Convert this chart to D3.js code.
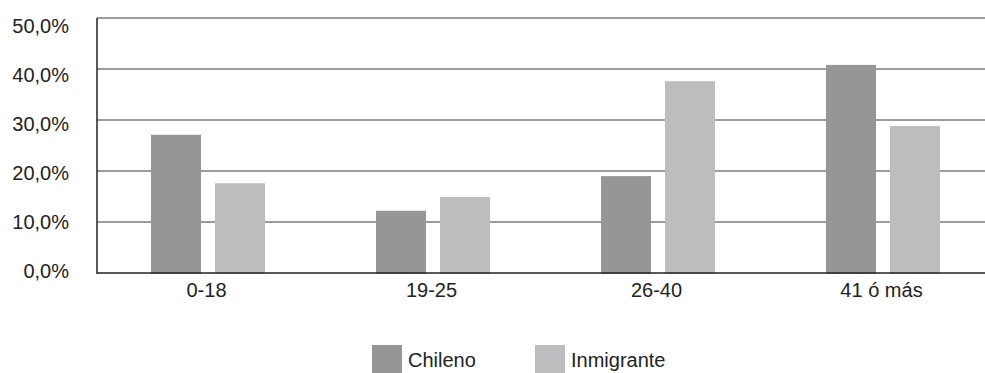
<!DOCTYPE html>
<html><head><meta charset="utf-8">
<script src="https://cdn.jsdelivr.net/npm/d3@7"></script>
<style>body{margin:0;background:#fff}svg{display:block;font-family:"Liberation Sans",Arial,sans-serif}</style>
</head><body><svg id="c" width="985" height="373"></svg>
<script>
const categories = ["0-18","19-25","26-40","41 ó más"];
const seriesNames = ["Chileno","Inmigrante"];
const chileno = [27.1,12.2,19.0,40.8];
const inmigrante = [17.6,14.9,37.6,28.8];
const yTicks = [0,10,20,30,40,50];
const colors = ["#959698","#bcbdbf"];

(function(){
const svg = d3.select("#c");
const mLeft = 97, mTop = 18, mBottom = 273;
const x = d3.scaleBand().domain(categories).range([95, 995]);
const y = d3.scaleLinear().domain([0,50]).range([mBottom, mTop]);
const yLab = d3.scaleLinear().domain([0,50]).range([271, 26]);
const fmt = v => v.toFixed(1).replace(".", ",") + "%";

// gridlines
svg.append("g").selectAll("line").data(yTicks.filter(t=>t>0)).join("line")
  .attr("x1", mLeft).attr("x2", 985)
  .attr("y1", d=>y(d)).attr("y2", d=>y(d))
  .attr("stroke", "#3a3a3a").attr("stroke-width", 1.2);

// bars
const series = [chileno, inmigrante];
const offsets = [-56.5, 7.5];
series.forEach((vals, si) => {
  svg.append("g").selectAll("rect").data(categories).join("rect")
    .attr("x", (d) => x(d) + x.bandwidth()/2 + offsets[si])
    .attr("width", 50)
    .attr("y", (d,i) => y(vals[i]))
    .attr("height", (d,i) => y(0) - y(vals[i]) + 1)
    .attr("fill", colors[si]);
});

// baseline and y axis line
svg.append("line").attr("x1", mLeft).attr("x2", 985).attr("y1", y(0)).attr("y2", y(0))
  .attr("stroke", "#222").attr("stroke-width", 1.5);
svg.append("line").attr("x1", mLeft).attr("x2", mLeft).attr("y1", mTop).attr("y2", y(0)+0.75)
  .attr("stroke", "#222").attr("stroke-width", 1.5);

// y labels
svg.append("g").selectAll("text").data(yTicks).join("text")
  .attr("x", 69).attr("y", d=>yLab(d)).attr("dy", "0.35em")
  .attr("text-anchor", "end").attr("font-size", 20).attr("fill", "#222")
  .text(fmt);

// x labels
svg.append("g").selectAll("text").data(categories).join("text")
  .attr("x", d => x(d) + x.bandwidth()/2 - 1).attr("y", 297)
  .attr("text-anchor", "middle").attr("font-size", 20).attr("fill", "#222")
  .text(d=>d);

// legend
const legX = [372, 535];
const leg = svg.append("g").selectAll("g").data(seriesNames).join("g")
  .attr("transform", (d,i)=>`translate(${legX[i]},345)`);
leg.append("rect").attr("width", 30).attr("height", 28).attr("fill", (d,i)=>colors[i]);
leg.append("text").attr("x", 36).attr("y", 22).attr("font-size", 20).attr("fill", "#222").text(d=>d);
})();
</script></body></html>
